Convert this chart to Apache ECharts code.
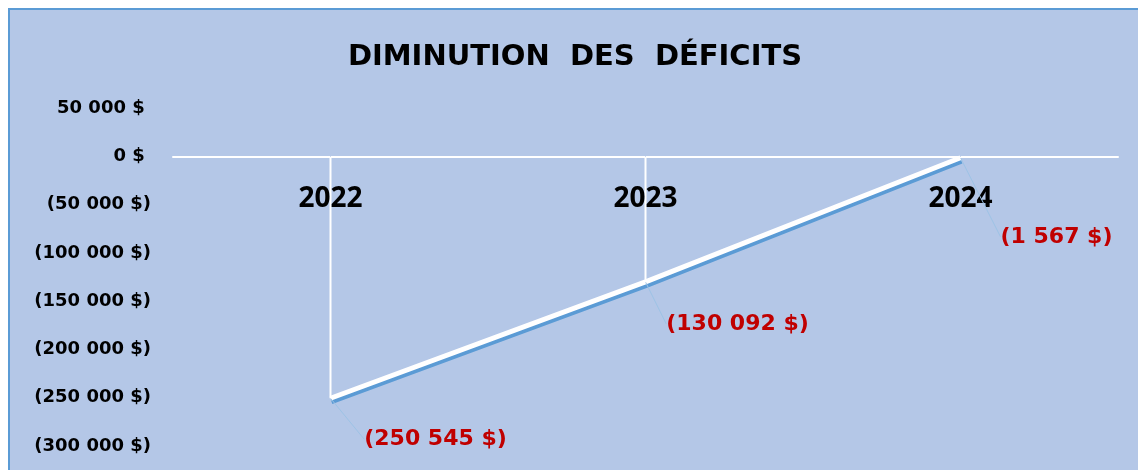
<!DOCTYPE html>
<html>
<head>
<meta charset="utf-8">
<script src="https://cdn.jsdelivr.net/npm/echarts@6/dist/echarts.min.js"></script>
<style>
  html, body { margin: 0; padding: 0; background: #fff; overflow: hidden; }
  #chart {
    position: absolute; left: 8px; top: 8px;
    width: 1130px; height: 462px;
    border-left: 2px solid #5b9bd5; border-top: 2px solid #5b9bd5;
    background: #b4c7e7;
  }
</style>
</head>
<body>
<div id="chart"></div>
<script>
// data
const years = ['2022', '2023', '2024'];
const deficits = [-250545, -130092, -1567];
const yMin = -300000;
const yMax = 50000;
const yStep = 50000;

// 250545 -> "250 545 $", negatives go in parentheses (accounting style)
function money(v) {
  const s = String(Math.abs(Math.round(v))).replace(/\B(?=(\d{3})+(?!\d))/g, ' ');
  return v < 0 ? '(' + s + ' $)' : s + ' $\u00a0';
}

const chart = echarts.init(document.getElementById('chart'));

// where each red label sits relative to its point
const labelShift = [[105, 41], [92, 42], [96, 79]];

chart.setOption({
  backgroundColor: '#b4c7e7',
  animation: false,
  title: {
    text: 'DIMINUTION  DES  DÉFICITS',
    left: 'center',
    top: 28,
    textStyle: {
      fontFamily: 'DejaVu Sans',
      fontWeight: 'bold',
      fontSize: 29,
      color: '#000',
    },
  },
  grid: {
    left: 163,
    width: 945,
    top: 98,
    height: 338,
    outerBoundsMode: 'none',
  },
  xAxis: {
    type: 'category',
    data: years,
    boundaryGap: true,
    axisLine: { show: true, onZero: true, lineStyle: { color: '#fff', width: 2 } },
    axisTick: { show: false },
    splitLine: { show: false },
    axisLabel: { show: false },
  },
  yAxis: {
    type: 'value',
    min: yMin,
    max: yMax,
    interval: yStep,
    axisLine: { show: false },
    axisTick: { show: false },
    splitLine: { show: false },
    axisLabel: {
      margin: 22,
      formatter: money,
      fontFamily: 'DejaVu Sans',
      fontWeight: 'bold',
      fontSize: 18,
      color: '#000',
    },
  },
  series: [
    {
      // white drop lines from zero down to each point
      type: 'bar',
      data: deficits,
      barWidth: 2,
      itemStyle: { color: '#fff' },
      silent: true,
      z: 1,
    },
    {
      // year names sitting just under the zero line
      type: 'scatter',
      data: years.map(() => 0),
      symbol: 'circle',
      symbolSize: 1,
      itemStyle: { color: '#b4c7e7', opacity: 1 },
      silent: true,
      label: {
        show: true,
        position: 'bottom',
        distance: 28,
        formatter: p => p.name,
        fontFamily: 'Noto Sans',
        fontWeight: 'bold',
        fontSize: 28,
        color: '#000',
        opacity: 1,
        textBorderWidth: 0,
      },
      z: 2,
    },
    {
      type: 'line',
      data: deficits,
      symbol: 'circle',
      symbolSize: 1,
      itemStyle: { color: 'rgba(0,0,0,0)' },
      lineStyle: {
        color: '#fff',
        width: 5,
        shadowColor: '#5b9bd5',
        shadowBlur: 0,
        shadowOffsetX: 1,
        shadowOffsetY: 3.5,
      },
      label: {
        show: true,
        position: 'inside',
        formatter: p => money(p.value),
        fontFamily: 'DejaVu Sans',
        fontWeight: 'bold',
        fontSize: 22,
        color: '#c00000',
      },
      labelLine: {
        show: true,
        lineStyle: { color: '#9dc3e6', width: 1 },
      },
      labelLayout: p => ({ dx: labelShift[p.dataIndex][0], dy: labelShift[p.dataIndex][1] }),
      z: 3,
    },
  ],
});
</script>
</body>
</html>
